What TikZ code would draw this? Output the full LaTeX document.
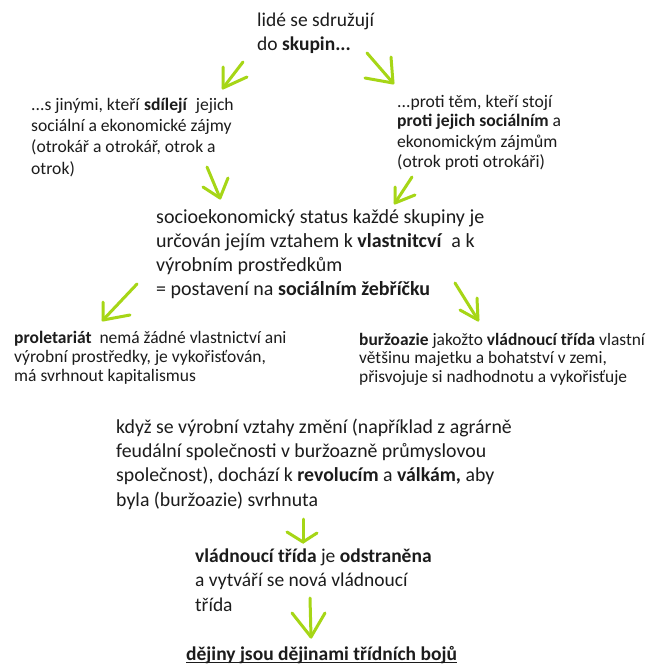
\documentclass[tikz,border=0pt]{standalone}
\usepackage{fontspec}
\setmainfont{Carlito}
\usetikzlibrary{calc}
\definecolor{lgreen}{RGB}{166,214,22}
\definecolor{txt}{RGB}{28,28,28}
\newcommand\setfs[2]{\fontsize{#1}{#2}\selectfont}
\begin{document}
\begin{tikzpicture}[x=1pt,y=-1pt,
  txtbox/.style={anchor=base west,inner sep=0pt,align=left,text=txt},
  garrow/.style={draw=lgreen,line width=3pt,line cap=round,line join=round}]
\useasboundingbox[fill=white] (0,0) rectangle (659,666);

% text nodes (anchor = baseline of the last line)
\node[txtbox,font=\setfs{19.5}{23.3}] (top) at (257,50.3) {lidé se sdružují\\do \textbf{skupin...}};
\node[txtbox,font=\setfs{17.6}{21.3}] (left) at (31,174) {...s jinými, kteří \textbf{sdílejí}\ \ jejich\\sociální a ekonomické zájmy\\(otrokář a otrokář, otrok a\\otrok)};
\node[txtbox,font=\setfs{17.6}{20}] (right) at (397,167) {...proti těm, kteří stojí\\\textbf{proti jejich sociálním} a\\ekonomickým zájmům\\(otrok proti otrokáři)};
\node[txtbox,font=\setfs{20}{24}] (mid) at (156,295) {socioekonomický status každé skupiny je\\určován jejím vztahem k \textbf{vlastnitcví}\ \ a k\\výrobním prostředkům\\= postavení na \textbf{sociálním žebříčku}};
\node[txtbox,font=\setfs{17.5}{19.3}] (prol) at (14,381.6) {\textbf{proletariát}\ \ nemá žádné vlastnictví ani\\výrobní prostředky, je vykořisťován,\\má svrhnout kapitalismus};
\node[txtbox,font=\setfs{17.4}{18.5}] (burz) at (359,382) {\textbf{buržoazie} jakožto \textbf{vládnoucí třída} vlastní\\většinu majetku a bohatství v zemi,\\přisvojuje si nadhodnotu a vykořisťuje};
\node[txtbox,font=\setfs{19.8}{24.3}] (kdyz) at (116,506) {když se výrobní vztahy změní (například z agrárně\\feudální společnosti v buržoazně průmyslovou\\společnost), dochází k \textbf{revolucím} a \textbf{válkám,} aby\\byla (buržoazie) svrhnuta};
\node[txtbox,font=\setfs{19.5}{24.5}] (vlad) at (195,611) {\textbf{vládnoucí třída} je \textbf{odstraněna}\\a vytváří se nová vládnoucí\\třída};
\node[txtbox,font=\setfs{19.5}{24}] (dej) at (186,660) {\textbf{dějiny jsou dějinami třídních bojů}};
\draw[txt,line width=1.3pt] ([yshift=-2.6pt]dej.base west) -- ([yshift=-2.6pt]dej.base east);

% arrow coordinates
\coordinate (a1s) at (243,62);  \coordinate (a1t) at (223,88);
\coordinate (a2s) at (367,53);  \coordinate (a2t) at (393,83);
\coordinate (a3s) at (207,167); \coordinate (a3t) at (220,198);
\coordinate (a4s) at (412,177); \coordinate (a4t) at (395,203);
\coordinate (a5s) at (137,284); \coordinate (a5t) at (103,320);
\coordinate (a6s) at (455,283); \coordinate (a6t) at (478,320);
\coordinate (a7s) at (303,519); \coordinate (a7t) at (303,542);
\coordinate (a8s) at (310,598); \coordinate (a8t) at (311,637);

% arrows: shaft + two barbs
\draw[garrow] (a1s) -- (a1t);
\draw[garrow] ($(a1t)+(0,-21)$) -- (a1t) -- ($(a1t)+(24,-11)$);
\draw[garrow] (a2s) -- (a2t);
\draw[garrow] ($(a2t)+(-2,-26)$) -- (a2t) -- ($(a2t)+(-28,-5)$);
\draw[garrow] (a3s) -- (a3t);
\draw[garrow] ($(a3t)+(-17,-11)$) -- (a3t) -- ($(a3t)+(8,-20)$);
\draw[garrow] (a4s) -- (a4t);
\draw[garrow] ($(a4t)+(0,-16)$) -- (a4t) -- ($(a4t)+(20,-8)$);
\draw[garrow] (a5s) -- (a5t);
\draw[garrow] ($(a5t)+(0,-18)$) -- (a5t) -- ($(a5t)+(27,-5)$);
\draw[garrow] (a6s) -- (a6t);
\draw[garrow] ($(a6t)+(-1,-22)$) -- (a6t) -- ($(a6t)+(-18,-10)$);
\draw[garrow] (a7s) -- (a7t);
\draw[garrow] ($(a7t)+(-16,-10)$) -- (a7t) -- ($(a7t)+(14,-9)$);
\draw[garrow] (a8s) -- (a8t);
\draw[garrow] ($(a8t)+(-19,-24)$) -- (a8t) -- ($(a8t)+(14,-24)$);
\end{tikzpicture}
\end{document}
